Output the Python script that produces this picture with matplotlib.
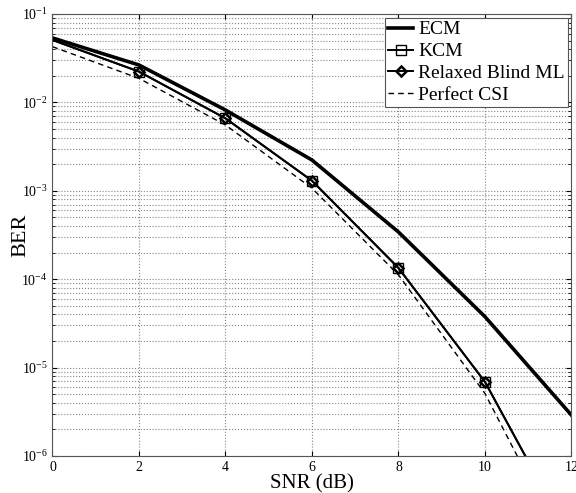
import numpy as np
import matplotlib
matplotlib.use('Agg')
import matplotlib.pyplot as plt
from matplotlib.ticker import LogLocator, NullFormatter

plt.rcParams['font.family'] = 'Liberation Serif'
plt.rcParams['mathtext.fontset'] = 'custom'
plt.rcParams['mathtext.rm'] = 'Liberation Serif'
plt.rcParams['mathtext.it'] = 'Liberation Serif:italic'

snr = [0, 2, 4, 6, 8, 10, 12]
ecm = [0.0536, 0.0265, 0.0082, 0.00223, 3.42e-4, 3.77e-5, 2.9e-6]
kcm = [0.0508, 0.0223, 0.0066, 0.0013, 1.34e-4, 6.9e-6, 1.1e-7]
rbml = [0.0508, 0.0223, 0.0066, 0.0013, 1.34e-4, 6.9e-6, 1.1e-7]
pcsi = [0.0427, 0.0187, 0.00555, 0.00107, 1.12e-4, 5.1e-6, 6.5e-8]

fig = plt.figure(figsize=(5.76, 4.93), dpi=100)
ax = fig.add_axes([0.0911, 0.075, 0.901, 0.8966])

ax.semilogy(snr, ecm, color='black', lw=2.6, label='ECM')
ax.semilogy(snr, kcm, color='black', lw=1.4, marker='s', ms=7.5, mfc='none',
            mew=1.0, markevery=slice(1, None), label='KCM')
ax.semilogy(snr, rbml, color='black', lw=1.4, marker='D', ms=5.5, mfc='none',
            mew=1.8, markevery=slice(1, None), label='Relaxed Blind ML')
ax.semilogy(snr, pcsi, color='black', lw=1, ls='--', dashes=(4, 3), label='Perfect CSI')

ax.set_xlim(0, 12)
ax.set_ylim(1e-6, 1e-1)
ax.set_xticks(range(0, 13, 2))
ax.yaxis.set_major_locator(LogLocator(base=10, numticks=10))
ax.yaxis.set_minor_locator(LogLocator(base=10, subs=np.arange(2, 10), numticks=20))
ax.yaxis.set_minor_formatter(NullFormatter())
ax.grid(True, which='major', ls=':', color='#888888', lw=0.8)
ax.grid(True, which='minor', axis='y', ls=':', color='#888888', lw=0.8)
ax.tick_params(which='both', direction='in', top=True, right=True, labelsize=10)
for s in ax.spines.values():
    s.set_color('#555555')

ax.set_xlabel('SNR (dB)', fontsize=15, labelpad=0)
ax.set_ylabel('BER', fontsize=16)
ax.yaxis.set_label_coords(-0.043, 0.5)
leg = ax.legend(loc='upper right', fontsize=14, fancybox=False, framealpha=1,
                edgecolor='#555555', handlelength=1.3, handletextpad=0.25,
                borderpad=0.15, labelspacing=0.22, borderaxespad=0.2)
leg.get_frame().set_linewidth(0.8)

fig.savefig('out.png', dpi=100)
